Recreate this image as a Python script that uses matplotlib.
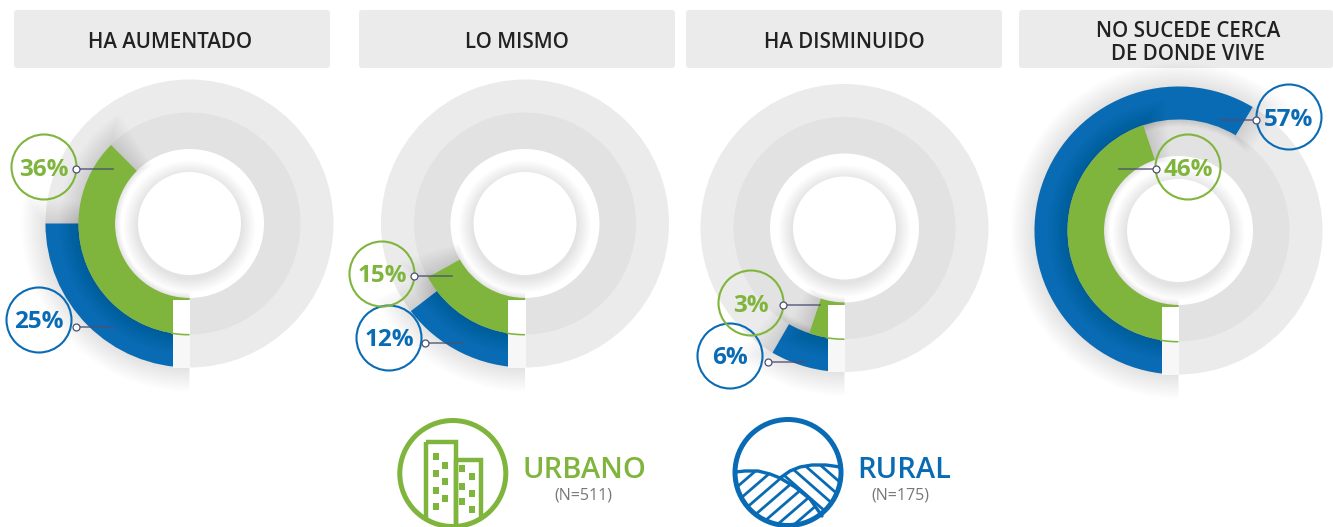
import numpy as np
import matplotlib
matplotlib.use("Agg")
import matplotlib.pyplot as plt
from matplotlib.patches import Wedge, Circle, Rectangle, FancyBboxPatch, Polygon

plt.rcParams['font.family'] = ['Open Sans', 'DejaVu Sans']

# values as printed on the chart
headers = ["HA AUMENTADO", "LO MISMO", "HA DISMINUIDO", "NO SUCEDE CERCA\nDE DONDE VIVE"]
urbano_pct = [36, 15, 3, 46]
rural_pct = [25, 12, 6, 57]
# the arcs in the picture are not exactly pct*3.6, so these are read off it (degrees from bottom)
urbano_arc = [135, 61, 18.5, 161.5]
rural_arc = [90, 52.5, 30, 211]

legend_names = ["URBANO", "RURAL"]
legend_n = ["(N=511)", "(N=175)"]

GREEN = '#80b53d'
BLUE = '#0a6bb5'
GREY_OUT = '#ebebeb'
GREY_MID = '#e2e2e2'

# layout in pixels of the 1333x527 picture
header_boxes = [(14, 330), (359, 675), (686, 1002), (1019, 1333)]
header_text_x = [170.5, 517, 844.5, 1188]
centers = [(189.5, 223.5), (525, 223.5), (844.5, 228), (1178.5, 230.5)]
urbano_bubbles = [(44, 167), (382, 274), (751, 303), (1188, 167)]
rural_bubbles = [(39, 320), (389, 338), (730, 356), (1289, 117)]
urbano_leaders = [(76, 169, 113), (414, 276, 452), (783, 305, 820), (1156, 169, 1119)]
rural_leaders = [(76, 327, 113), (425, 343, 463), (768, 362, 805), (1256, 120, 1220)]

R_OUT = 144
R_MID = 111
R_WHITE = 74.5
R_CORE = 51.5
GAP = 17

fig = plt.figure(figsize=(13.33, 5.27), dpi=100)
ax = fig.add_axes([0, 0, 1, 1])
ax.set_xlim(0, 1333)
ax.set_ylim(527, 0)
ax.axis('off')


# stacked see-through wedges to fake a soft shadow
def arc_shadow(cx, cy, r_in, r_out, sweep, spread, z, strength=0.007):
    for i in range(1, 15):
        grow = spread * i / 14
        ang = np.degrees(grow / ((r_in + r_out) / 2))
        ax.add_patch(Wedge((cx, cy), r_out + grow, 90, 90 + sweep + ang,
                           width=r_out - r_in + grow * 1.3, fc='black', ec='none',
                           alpha=strength, zorder=z))


def draw_donut(cx, cy, green_arc, blue_arc):
    ax.add_patch(Circle((cx, cy), R_OUT, fc=GREY_OUT, ec='none', zorder=1))
    ax.add_patch(Circle((cx, cy), R_MID, fc=GREY_MID, ec='none', zorder=1.1))
    ax.add_patch(Circle((cx, cy), R_WHITE, fc='white', ec='none', zorder=1.2))

    # shadow around the white core
    for i in range(1, 15):
        ax.add_patch(Circle((cx, cy + 3), R_CORE + i * 1.05, fc='black', ec='none',
                            alpha=0.007, zorder=1.3))
    ax.add_patch(Circle((cx, cy), R_CORE, fc='white', ec='none', zorder=1.4))

    arc_shadow(cx, cy, R_MID, R_OUT, blue_arc, 24, 2)
    ax.add_patch(Wedge((cx, cy), R_OUT, 90, 90 + blue_arc, width=R_OUT - R_MID,
                       fc=BLUE, ec='none', zorder=3))
    arc_shadow(cx, cy, R_WHITE, R_MID, green_arc, 20, 4)
    ax.add_patch(Wedge((cx, cy), R_MID, 90, 90 + green_arc, width=R_MID - R_WHITE,
                       fc=GREEN, ec='none', zorder=5))

    # white strip where the two arcs start, with the thin green line across it
    ax.add_patch(Rectangle((cx - GAP, cy + R_WHITE + 2), GAP + 0.5, R_MID - R_WHITE - 2,
                           fc='white', ec='none', zorder=6))
    ax.add_patch(Rectangle((cx - GAP, cy + R_MID), GAP + 0.5, R_OUT - R_MID,
                           fc='#f7f7f7', ec='none', zorder=6))
    ax.add_patch(Wedge((cx, cy), R_MID + 1, 90, 99.5, width=1.6, fc=GREEN, ec='none', zorder=7))


def draw_bubble(xy, leader, pct, color):
    ax.add_patch(Circle(xy, 32.5, fc='none', ec=color, lw=1.5, zorder=8))
    dot_x, dot_y, end_x = leader
    ax.plot([dot_x, end_x], [dot_y, dot_y], color='#4a4f73', lw=1.1, alpha=0.85, zorder=8)
    ax.plot(dot_x, dot_y, 'o', ms=5, mfc='white', mec='#4a4f73', mew=0.9, zorder=9)
    ax.text(xy[0], xy[1] + 2.5, f"{pct}%", color=color, fontsize=17.5, fontweight='bold',
            ha='center', va='center', zorder=10)


for (x0, x1), tx, title in zip(header_boxes, header_text_x, headers):
    ax.add_patch(FancyBboxPatch((x0 + 3, 13), x1 - x0 - 6, 52, boxstyle="round,pad=3,rounding_size=3",
                                fc=GREY_OUT, ec='none', zorder=1))
    ax.text(tx, 43, title, color='#222222', fontsize=14.8, fontweight=600,
            ha='center', va='center', linespacing=1.15, zorder=2)

for i in range(4):
    cx, cy = centers[i]
    draw_donut(cx, cy, urbano_arc[i], rural_arc[i])
    draw_bubble(rural_bubbles[i], rural_leaders[i], rural_pct[i], BLUE)
    draw_bubble(urbano_bubbles[i], urbano_leaders[i], urbano_pct[i], GREEN)


# legend icon: buildings
def urbano_icon(cx, cy, r):
    ax.add_patch(Circle((cx, cy), r - 2.5, fc='none', ec=GREEN, lw=3.6))
    clip = Circle((cx, cy), r - 2.5, transform=ax.transData)
    for x0, x1, top in [(426, 455.5, 442), (455.5, 481, 460)]:
        rect = Rectangle((x0, top), x1 - x0, 90, fc='none', ec=GREEN, lw=3.2)
        ax.add_patch(rect)
        rect.set_clip_path(clip)
    windows = [(433, [453, 470, 487, 503]), (442, [462, 478, 495]),
               (459, [465, 483, 498]), (469, [473, 490, 506])]
    for x, ys in windows:
        for y in ys:
            ax.add_patch(Rectangle((x, y), 5.5, 7, fc=GREEN, ec='none'))


# legend icon: fields on hills
def rural_icon(cx, cy, r):
    ax.add_patch(Circle((cx, cy), r - 2.5, fc='none', ec=BLUE, lw=3.6))
    ri = r - 3

    left_x = [cx - ri, 745, 758, 770, 780, 795, 810, 822]
    left_y = [472, 471, 471, 474, 478, 487, 499, 516]
    right_x = [780, 790, 800, 812, 826, cx + ri]
    right_y = [478, 471, 467, 465, 465, 467]
    ax.plot(left_x, left_y, color=BLUE, lw=2.4, solid_capstyle='round')
    ax.plot(right_x, right_y, color=BLUE, lw=2.4, solid_capstyle='round')

    a = np.radians(np.linspace(52, 178, 40))
    poly_a = list(zip(left_x, left_y)) + list(zip(cx + ri * np.cos(a), cy + ri * np.sin(a)))
    b = np.radians(np.linspace(-5, 52, 20))
    poly_b = list(zip(right_x, right_y)) + list(zip(cx + ri * np.cos(b), cy + ri * np.sin(b))) \
        + list(zip(left_x[::-1][:4], left_y[::-1][:4]))

    clip_a = Polygon(poly_a, closed=True, transform=ax.transData)
    clip_b = Polygon(poly_b, closed=True, transform=ax.transData)
    for c in np.arange(-20, 120, 14.5):
        ln, = ax.plot([730, 840], [473 + c + 40, 473 + c + 40 - 95], color=BLUE, lw=2.0)
        ln.set_clip_path(clip_a)
    for c in np.arange(-60, 60, 14):
        ln, = ax.plot([770, 850], [473 + c - 20, 473 + c + 50], color=BLUE, lw=2.0)
        ln.set_clip_path(clip_b)


urbano_icon(452.8, 473.5, 55.5)
rural_icon(788, 472.5, 55.5)

ax.text(584.5, 470, legend_names[0], color=GREEN, fontsize=21, fontweight=600, ha='center', va='center')
ax.text(583.5, 496, legend_n[0], color='#777777', fontsize=11.5, ha='center', va='center')
ax.text(904.5, 470, legend_names[1], color=BLUE, fontsize=21, fontweight=600, ha='center', va='center')
ax.text(900, 496, legend_n[1], color='#777777', fontsize=11.5, ha='center', va='center')

fig.savefig('out.png', dpi=100)
